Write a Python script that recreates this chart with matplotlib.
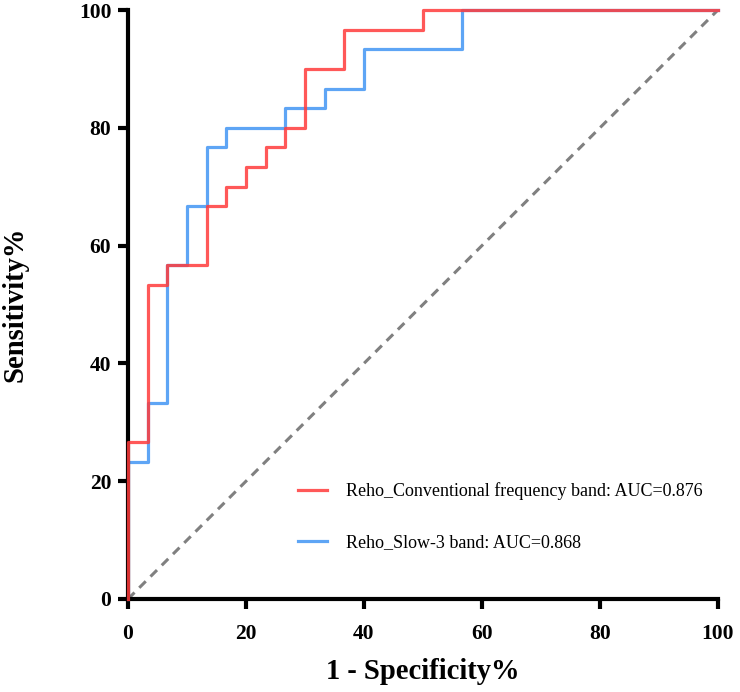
import numpy as np
import matplotlib.pyplot as plt

# ROC step points (1 - specificity %, sensitivity %)
conv_fpr = [0, 0, 3.33, 3.33, 6.67, 6.67, 13.33, 13.33, 16.67, 16.67, 20, 20,
            23.33, 23.33, 26.67, 26.67, 30, 30, 36.67, 36.67, 50, 50, 100]
conv_tpr = [0, 26.67, 26.67, 53.33, 53.33, 56.67, 56.67, 66.67, 66.67, 70, 70, 73.33,
            73.33, 76.67, 76.67, 80, 80, 90, 90, 96.67, 96.67, 100, 100]

slow3_fpr = [0, 0, 3.33, 3.33, 6.67, 6.67, 10, 10, 13.33, 13.33, 16.67, 16.67,
             26.67, 26.67, 33.33, 33.33, 40, 40, 56.67, 56.67, 100]
slow3_tpr = [0, 23.33, 23.33, 33.33, 33.33, 56.67, 56.67, 66.67, 66.67, 76.67, 76.67, 80,
             80, 83.33, 83.33, 86.67, 86.67, 93.33, 93.33, 100, 100]

labels = ['Reho_Conventional frequency band: AUC=0.876',
          'Reho_Slow-3 band: AUC=0.868']
ticks = [0, 20, 40, 60, 80, 100]

plt.rcParams['font.family'] = ['Liberation Serif', 'DejaVu Serif']

fig = plt.figure(figsize=(7.4, 6.92), dpi=100)
ax = fig.add_axes([0.173, 0.1344, 0.797, 0.851])

# reference line
ax.plot([0, 100], [0, 100], color='#808080', linestyle=(0, (3, 2.2)), linewidth=2.2,
        clip_on=False, zorder=1)

ax.plot(slow3_fpr, slow3_tpr, color='#55A0F5', linewidth=2.3, alpha=0.95,
        label=labels[1], clip_on=False, zorder=2)
ax.plot(conv_fpr, conv_tpr, color='#FF3B3B', linewidth=2.3, alpha=0.85,
        label=labels[0], clip_on=False, zorder=3)

ax.set_xlim(0, 100)
ax.set_ylim(0, 100)
ax.set_xticks(ticks)
ax.set_yticks(ticks)
ax.tick_params(width=3, length=7, labelsize=15.5)
ax.tick_params(axis='x', pad=11)
ax.tick_params(axis='y', pad=5)
for lbl in ax.get_xticklabels() + ax.get_yticklabels():
    lbl.set_fontweight('bold')

for side in ['top', 'right']:
    ax.spines[side].set_visible(False)
for side in ['left', 'bottom']:
    ax.spines[side].set_linewidth(3)

ax.set_xlabel('1 - Specificity%', fontsize=20.6, fontweight='bold')
ax.set_ylabel('Sensitivity%', fontsize=20.6, fontweight='bold')
ax.xaxis.set_label_coords(0.5, -0.1)
ax.yaxis.set_label_coords(-0.169, 0.5)

handles, labs = ax.get_legend_handles_labels()
ax.legend(handles[::-1], labs[::-1], frameon=False, fontsize=13,
          loc='upper left', bbox_to_anchor=(0.391, 0.3157), bbox_transform=fig.transFigure,
          borderpad=0, handlelength=1.6, handletextpad=1.05, labelspacing=1.85)

plt.savefig('out.png', dpi=100)
